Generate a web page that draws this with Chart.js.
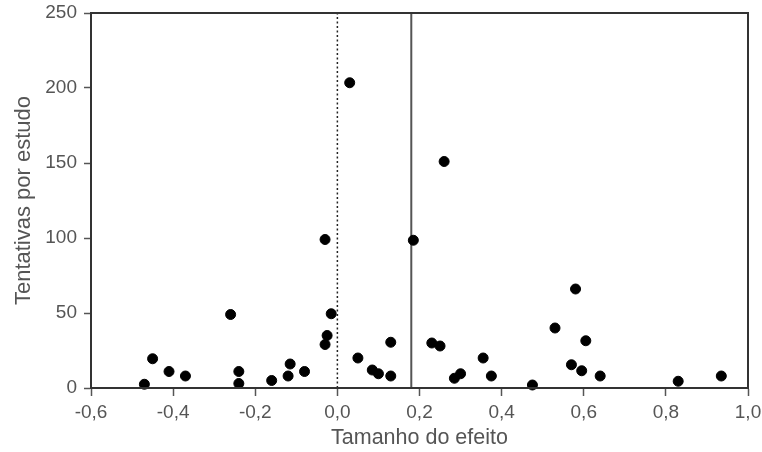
<!DOCTYPE html>
<html>
<head>
<meta charset="utf-8">
<script src="https://cdn.jsdelivr.net/npm/chart.js@4"></script>
<style>
  html, body { margin: 0; padding: 0; background: #fff; overflow: hidden; }
  canvas { display: block; }
</style>
</head>
<body>
<canvas id="chart" width="762" height="452"></canvas>
<script>
// effect size (x) and trials per study (y)
const effectSize = [
  -0.47, -0.45, -0.41, -0.37, -0.26, -0.24, -0.24, -0.16, -0.12, -0.115,
  -0.08, -0.03, -0.015, -0.025, -0.03, 0.03, 0.05, 0.085, 0.10, 0.13,
  0.13, 0.185, 0.23, 0.25, 0.26, 0.285, 0.30, 0.355, 0.375, 0.475,
  0.53, 0.57, 0.58, 0.595, 0.605, 0.64, 0.83, 0.935
];
const trials = [
  2.5, 19.5, 11, 8, 49, 11, 3, 5, 8, 16,
  11, 99, 49.5, 35, 29, 203.5, 20, 12, 9.5, 8,
  30.5, 98.5, 30, 28, 151, 6.5, 9.5, 20, 8, 2,
  40, 15.5, 66, 11.5, 31.5, 8, 4.5, 8
];
const nullLine = [0, 0];       // dotted reference at zero
const meanLine = [0.18, 0.18]; // solid line at mean effect
const lineSpan = [0, 250];

const xTicks = [-0.6, -0.4, -0.2, 0, 0.2, 0.4, 0.6, 0.8, 1.0];
const yTicks = [0, 50, 100, 150, 200, 250];

const textColor = '#555';
const fontFamily = '"Liberation Sans", Arial, sans-serif';

const toPts = (xs, ys) => xs.map((x, i) => ({ x: x, y: ys[i] }));

// draw the frame round the plot area (top and right sides too)
const frame = {
  id: 'frame',
  afterDatasetsDraw(chart) {
    const { ctx, chartArea: a } = chart;
    ctx.save();
    ctx.strokeStyle = '#333';
    ctx.lineWidth = 2;
    ctx.strokeRect(a.left, a.top, a.right - a.left, a.bottom - a.top);
    ctx.restore();
  }
};

new Chart(document.getElementById('chart'), {
  type: 'scatter',
  data: {
    datasets: [
      {
        data: toPts(effectSize, trials),
        backgroundColor: '#000',
        borderColor: '#000',
        pointRadius: 5,
        pointHoverRadius: 5,
        clip: false
      },
      {
        type: 'line',
        data: toPts(nullLine, lineSpan),
        borderColor: '#222',
        borderWidth: 1.5,
        borderDash: [2, 2.5],
        pointRadius: 0
      },
      {
        type: 'line',
        data: toPts(meanLine, lineSpan),
        borderColor: '#555',
        borderWidth: 2,
        pointRadius: 0
      }
    ]
  },
  options: {
    responsive: false,
    animation: false,
    layout: { padding: { top: 13, right: 14, left: 0, bottom: 0 } },
    plugins: {
      legend: { display: false },
      tooltip: { enabled: false }
    },
    scales: {
      x: {
        type: 'linear',
        min: -0.6,
        max: 1.0,
        afterBuildTicks: s => { s.ticks = xTicks.map(v => ({ value: v })); },
        afterFit: s => { s.height = 64; s.paddingLeft = 0; s.paddingRight = 0; },
        grid: { drawOnChartArea: false, tickLength: 8, tickColor: '#555', tickWidth: 1.5 },
        border: { color: '#222', width: 2 },
        ticks: {
          color: textColor,
          padding: 5,
          maxRotation: 0,
          font: { family: fontFamily, size: 19 },
          callback: v => Math.abs(v) < 1e-9 ? '0,0' : v.toFixed(1).replace('.', ',')
        },
        title: {
          display: true,
          text: 'Tamanho do efeito',
          color: textColor,
          font: { family: fontFamily, size: 21.5 },
          padding: { top: 0, bottom: 1 }
        }
      },
      y: {
        min: 0,
        max: 250,
        afterBuildTicks: s => { s.ticks = yTicks.map(v => ({ value: v })); },
        afterFit: s => { s.width = 91; s.paddingTop = 0; s.paddingBottom = 0; },
        grid: { drawOnChartArea: false, tickLength: 7, tickColor: '#555', tickWidth: 1.5 },
        border: { color: '#222', width: 2 },
        ticks: {
          color: textColor,
          padding: 7,
          font: { family: fontFamily, size: 19 }
        },
        title: {
          display: true,
          text: 'Tentativas por estudo',
          color: textColor,
          font: { family: fontFamily, size: 22 },
          padding: { top: 11, bottom: 0 }
        }
      }
    }
  },
  plugins: [frame]
});
</script>
</body>
</html>
